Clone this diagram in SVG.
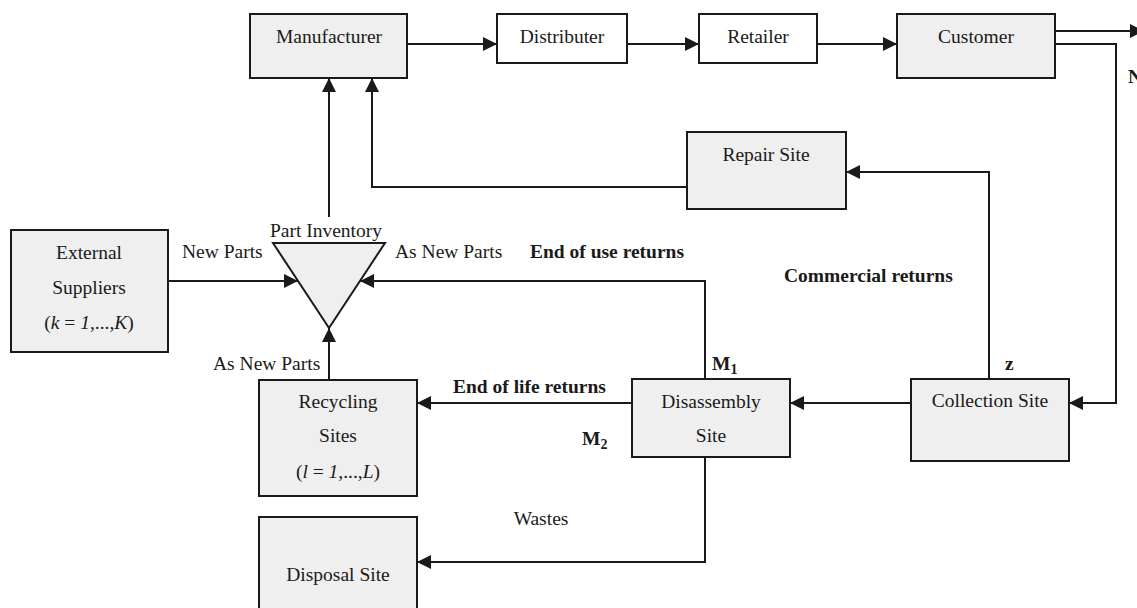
<svg xmlns="http://www.w3.org/2000/svg" width="1137" height="608" viewBox="0 0 1137 608">
<defs>
<marker id="ah" markerUnits="userSpaceOnUse" markerWidth="15" markerHeight="15" viewBox="0 0 15 15" refX="14" refY="7.5" orient="auto">
<path d="M0,0.5 L14,7.5 L0,14.5 Z" fill="#1a1a1a"/>
</marker>
</defs>
<style>
.box{fill:#efefef;stroke:#1a1a1a;stroke-width:2}
.wbox{fill:#ffffff;stroke:#1a1a1a;stroke-width:2}
.t{font-family:"Liberation Serif","Times New Roman",serif;font-size:19.5px;fill:#1a1a1a}
.c{text-anchor:middle}
.b{font-weight:bold}
.ln{fill:none;stroke:#1a1a1a;stroke-width:2}
</style>
<rect width="1137" height="608" fill="#ffffff"/>
<g id="connectors">
<line class="ln" x1="407" y1="44" x2="497" y2="44" marker-end="url(#ah)"/>
<line class="ln" x1="627" y1="44" x2="699" y2="44" marker-end="url(#ah)"/>
<line class="ln" x1="817" y1="44" x2="897" y2="44" marker-end="url(#ah)"/>
<line class="ln" x1="1055" y1="31" x2="1144" y2="31" marker-end="url(#ah)"/>
<polyline class="ln" points="1055,44 1116,44 1116,403 1069,403" marker-end="url(#ah)"/>
<polyline class="ln" points="989,379 989,172 846,172" marker-end="url(#ah)"/>
<polyline class="ln" points="687,187 372,187 372,78" marker-end="url(#ah)"/>
<line class="ln" x1="329" y1="217" x2="329" y2="78" marker-end="url(#ah)"/>
<line class="ln" x1="168" y1="281" x2="298" y2="281" marker-end="url(#ah)"/>
<polyline class="ln" points="705,379 705,281 360,281" marker-end="url(#ah)"/>
<line class="ln" x1="329" y1="380" x2="329" y2="328" marker-end="url(#ah)"/>
<line class="ln" x1="632" y1="403" x2="417" y2="403" marker-end="url(#ah)"/>
<line class="ln" x1="911" y1="403" x2="790" y2="403" marker-end="url(#ah)"/>
<polyline class="ln" points="705,457 705,562 417,562" marker-end="url(#ah)"/>
</g>
<g id="manufacturer">
<rect class="box" x="250" y="14" width="157" height="64"/>
<text class="t c" x="329" y="43">Manufacturer</text>
</g>
<g id="distributer">
<rect class="wbox" x="497" y="14" width="130" height="49"/>
<text class="t c" x="562" y="43">Distributer</text>
</g>
<g id="retailer">
<rect class="wbox" x="699" y="14" width="118" height="49"/>
<text class="t c" x="758" y="43">Retailer</text>
</g>
<g id="customer">
<rect class="box" x="897" y="14" width="158" height="64"/>
<text class="t c" x="976" y="43">Customer</text>
</g>
<g id="repair-site">
<rect class="box" x="687" y="132" width="159" height="77"/>
<text class="t c" x="766" y="161">Repair Site</text>
</g>
<g id="part-inventory">
<polygon class="box" points="273,243 385,243 329,328"/>
<text class="t c" x="326" y="237">Part Inventory</text>
</g>
<g id="external-suppliers">
<rect class="box" x="11" y="230" width="157" height="122"/>
<text class="t c" x="89" y="259">External</text>
<text class="t c" x="89" y="294">Suppliers</text>
<text class="t c" x="89" y="329">(<tspan font-style="italic">k</tspan> = <tspan font-style="italic">1</tspan>,...,<tspan font-style="italic">K</tspan>)</text>
</g>
<g id="recycling-sites">
<rect class="box" x="259" y="380" width="158" height="116"/>
<text class="t c" x="338" y="408">Recycling</text>
<text class="t c" x="338" y="442">Sites</text>
<text class="t c" x="338" y="478">(<tspan font-style="italic">l</tspan> = <tspan font-style="italic">1</tspan>,...,<tspan font-style="italic">L</tspan>)</text>
</g>
<g id="disposal-site">
<rect class="box" x="259" y="517" width="158" height="95"/>
<text class="t c" x="338" y="581">Disposal Site</text>
</g>
<g id="disassembly-site">
<rect class="box" x="632" y="379" width="158" height="78"/>
<text class="t c" x="711" y="408">Disassembly</text>
<text class="t c" x="711" y="442">Site</text>
</g>
<g id="collection-site">
<rect class="box" x="911" y="379" width="158" height="82"/>
<text class="t c" x="990" y="407">Collection Site</text>
</g>
<g id="labels">
<text class="t" x="182" y="258">New Parts</text>
<text class="t" x="395" y="258">As New Parts</text>
<text class="t b" x="530" y="258">End of use returns</text>
<text class="t b" x="784" y="282">Commercial returns</text>
<text class="t" x="213" y="370">As New Parts</text>
<text class="t b" x="712" y="370">M<tspan font-size="14" dy="4">1</tspan></text>
<text class="t b" x="1005" y="370">z</text>
<text class="t b" x="453" y="393">End of life returns</text>
<text class="t b" x="582" y="445">M<tspan font-size="14" dy="4">2</tspan></text>
<text class="t c" x="541" y="525">Wastes</text>
<text class="t b" x="1128" y="83">N</text>
</g>
</svg>
